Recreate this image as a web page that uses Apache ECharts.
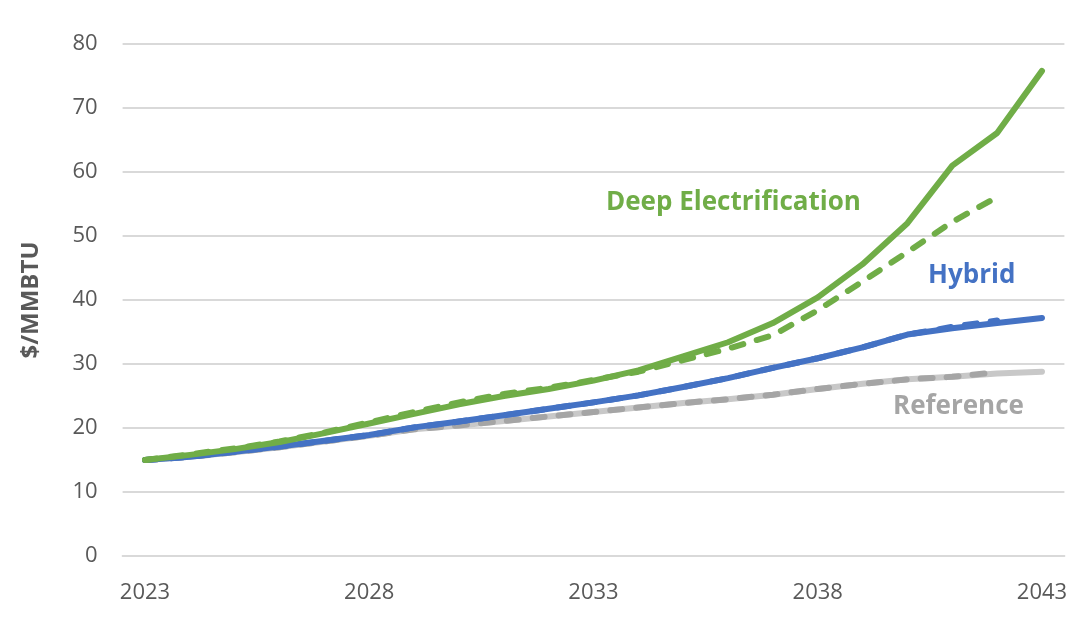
<!DOCTYPE html>
<html><head><meta charset="utf-8">
<script src="https://cdn.jsdelivr.net/npm/echarts@6/dist/echarts.min.js"></script>
<style>html,body{margin:0;padding:0;background:#fff}#c{width:1092px;height:627px}</style>
</head><body><div id="c"></div>
<script>
const years = ['2023','2024','2025','2026','2027','2028','2029','2030','2031','2032','2033','2034','2035','2036','2037','2038','2039','2040','2041','2042','2043'];
const deepSolid   = [15, 15.8, 16.7, 17.8, 19.2, 20.7, 22.2, 23.7, 25.0, 26.1, 27.4, 29.0, 31.2, 33.4, 36.4, 40.4, 45.6, 52.0, 61.0, 66.1, 75.8];
const deepDashed  = [15, 15.9, 16.8, 17.9, 19.3, 20.9, 22.5, 24.0, 25.3, 26.3, 27.5, 28.8, 30.6, 32.4, 34.5, 38.4, 42.9, 47.5, 52.2, 56.1, null];
const hybridSolid = [15, 15.5, 16.3, 17.1, 18.0, 18.9, 20.1, 21.0, 22.0, 23.0, 24.0, 25.1, 26.4, 27.8, 29.4, 30.9, 32.6, 34.6, 35.6, 36.4, 37.2];
const hybridDashed= [15, 15.5, 16.3, 17.1, 18.0, 18.9, 20.1, 21.0, 22.0, 23.0, 24.0, 25.1, 26.4, 27.8, 29.4, 30.9, 32.6, 34.6, 35.8, 36.8, null];
const refSolid    = [15, 15.5, 16.2, 17.0, 17.9, 18.8, 19.8, 20.4, 21.1, 21.8, 22.5, 23.2, 23.9, 24.5, 25.2, 26.1, 26.9, 27.6, 28.0, 28.5, 28.8];
const refDashed   = [15, 15.5, 16.2, 17.0, 17.9, 18.8, 19.8, 20.4, 21.1, 21.8, 22.5, 23.2, 23.9, 24.5, 25.2, 26.1, 26.9, 27.6, 28.0, 28.7, null];
const yTicks = [0, 10, 20, 30, 40, 50, 60, 70, 80];
const labels = ['Deep Electrification', 'Hybrid', 'Reference'];

const GREEN = '#70AD47', BLUE = '#4472C4', GRAY = '#A5A5A5', LGRAY = '#C8C8C8';
const FONT = 'Open Sans';
const chart = echarts.init(document.getElementById('c'));
function line(data, color, dashed, z) {
  return {
    type: 'line', data: data, symbol: 'none', smooth: false, z: z,
    connectNulls: false, animation: false,
    lineStyle: { color: color, width: 6, type: dashed ? [12, 14] : 'solid', cap: 'round', join: 'round' }
  };
}
chart.setOption({
  animation: false,
  grid: { left: 122.6, right: 27.6, top: 44, bottom: 71 },
  xAxis: {
    type: 'category', data: years, boundaryGap: true,
    axisLine: { show: true, lineStyle: { color: '#D9D9D9', width: 2 } },
    axisTick: { show: false },
    axisLabel: { interval: 4, margin: 26, fontSize: 22, color: '#595959', fontFamily: FONT }
  },
  yAxis: {
    type: 'value', min: yTicks[0], max: yTicks[yTicks.length - 1], interval: 10,
    name: '$/MMBTU', nameLocation: 'middle', nameGap: 79, nameRotate: 90,
    nameTextStyle: { fontSize: 24, fontWeight: 'bold', color: '#595959', fontFamily: FONT },
    axisLine: { show: false }, axisTick: { show: false },
    axisLabel: { margin: 25, fontSize: 22, color: '#595959', fontFamily: FONT },
    splitLine: { lineStyle: { color: '#D9D9D9', width: 2 } }
  },
  graphic: [
    { type: 'text', left: 606, top: 190, style: { text: labels[0], fill: GREEN, font: 'bold 26px "Open Sans"' } },
    { type: 'text', left: 928, top: 263, style: { text: labels[1], fill: BLUE, font: 'bold 26px "Open Sans"' } },
    { type: 'text', left: 893, top: 394, style: { text: labels[2], fill: GRAY, font: 'bold 26px "Open Sans"' } }
  ],
  series: [
    line(refSolid, LGRAY, false, 1),
    line(refDashed, GRAY, true, 2),
    line(hybridSolid, BLUE, false, 3),
    line(hybridDashed, BLUE, true, 4),
    line(deepDashed, GREEN, true, 5),
    line(deepSolid, GREEN, false, 6)
  ]
});
</script></body></html>
